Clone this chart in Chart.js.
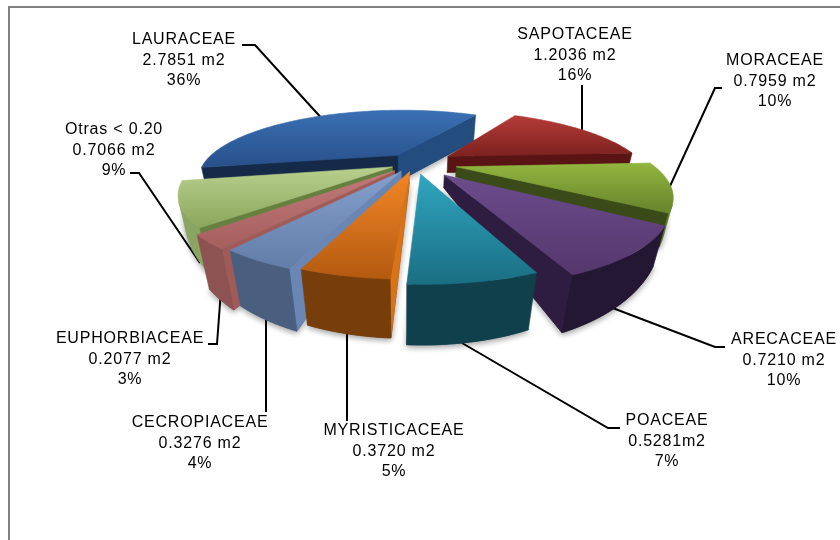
<!DOCTYPE html>
<html><head><meta charset="utf-8">
<style>html,body{margin:0;padding:0;background:#fff}canvas{display:block}</style>
<script src="https://cdn.jsdelivr.net/npm/chart.js@4"></script>
</head><body><canvas id="c" width="840" height="540"></canvas>
<script>
const categories = ['LAURACEAE','SAPOTACEAE','MORACEAE','ARECACEAE','POACEAE','MYRISTICACEAE','CECROPIACEAE','EUPHORBIACEAE','Otras < 0.20'];
const areas = [2.7851,1.2036,0.7959,0.7210,0.5281,0.3720,0.3276,0.2077,0.7066];
const areaLabels = ['2.7851 m2','1.2036 m2','0.7959 m2','0.7210 m2','0.5281m2','0.3720 m2','0.3276 m2','0.2077 m2','0.7066 m2'];
const percentLabels = ['36%','16%','10%','10%','7%','5%','4%','3%','9%'];
const explode = [30,40,42,44,32,26,28,30,25];
const topFrom = ['#3a70b3','#b53b37','#92b53f','#6c4b8c','#30a6c0','#f38626','#84a0cc','#c07a78','#b8d08d'];
const topTo   = ['#28508a','#7c2220','#66832b','#55376c','#1a6e83','#b35a10','#627da8','#a65f5e','#8ca65c'];
const startWall = ['#152a48','#4f1010','#3a4a18','#2e1d40','#123f4c','#d87417','#6a86b5','#a05a58','#66803f'];
const endWall   = ['#234d7f','#5a1414','#3a4a18','#2e1d40','#123f4c','#cc6e16','#6a86b5','#a05a58','#66803f'];
const rimFill   = ['#1c3a62','#5a1414','#5d7a2a','#231733','#11404d','#773e0c','#4a5f80','#8c5352','#8aa463'];
const minDepth = [26,16,10,8,8,8,8,8,8];
const depthBoost = [0,0,0,0,0,0,5,10,4];
const labelCentres = [[184,40],[575,35],[775,61],[784,340],[667,421],[394,431],[200,423],[130,339],[114,130]];
const leaderLines = [
 [[242,45],[255,45],[325,122]],
 [[582,85],[582,140]],
 [[722,88],[715,88],[665,197]],
 [[725,347],[715,347],[610,307]],
 [[620,428],[608,428],[462,343]],
 [[347,421],[347,330]],
 [[266,412],[266,310]],
 [[208,344],[217,344],[221,290]],
 [[130,173],[139,173],[200,263]]
];
const view = {cx:415,cy:163,D:590,s:0.33,nx:404};

function proj(u,n){const p=1/(1-n/view.D);return [view.cx+u*p,view.cy+view.s*n*p];}
function depth(n,i){return Math.max(minDepth[i],4+0.25*n+depthBoost[i]*Math.max(0,n)/150);}
function lower(P,n,i){const h=depth(n,i),k=1-h*0.065/60;return [view.nx+(P[0]-view.nx)*k,P[1]+h];}
function poly(ctx,pts,fill){ctx.beginPath();pts.forEach((q,j)=>j?ctx.lineTo(q[0],q[1]):ctx.moveTo(q[0],q[1]));ctx.closePath();ctx.fillStyle=fill;ctx.strokeStyle=fill;ctx.lineWidth=0.6;ctx.fill();ctx.stroke();}
function area(p){let a=0;p.forEach((q,j)=>{const r=p[(j+1)%p.length];a+=q[0]*r[1]-r[0]*q[1];});return a;}

const pie3d = {
 id:'pie3d',
 beforeDatasetsDraw(chart){
  const ctx=chart.ctx, arcs=chart.getDatasetMeta(0).data;
  ctx.save();
  ctx.strokeStyle='#000';ctx.lineWidth=2;ctx.lineJoin='miter';
  leaderLines.forEach(l=>{ctx.beginPath();l.forEach((q,j)=>j?ctx.lineTo(q[0],q[1]):ctx.moveTo(q[0],q[1]));ctx.stroke();});
  ctx.restore();
  const slices=arcs.map((el,i)=>{
    const a0=el.startAngle,a1=el.endAngle,mid=(a0+a1)/2,e=el.options.offset,R=el.outerRadius;
    const ou=Math.cos(mid)*e,on=Math.sin(mid)*e,steps=Math.max(4,Math.ceil((a1-a0)/0.025));
    const plate=[];for(let j=0;j<=steps;j++){const a=a0+(a1-a0)*j/steps;plate.push([ou+R*Math.cos(a),on+R*Math.sin(a)]);}
    return {i,ou,on,plate,key:Math.sin(mid)};
  }).sort((x,y)=>x.key-y.key);
  ctx.save();
  ctx.save();ctx.shadowColor='rgba(0,0,0,.4)';ctx.shadowBlur=6;ctx.shadowOffsetY=2;
  slices.forEach(S=>{
    const low=[[S.ou,S.on],...S.plate].map(q=>lower(proj(q[0],q[1]),q[1],S.i));
    poly(ctx,low,rimFill[S.i]);
  });
  ctx.restore();
  slices.forEach(S=>{
    const i=S.i,tops=S.plate.map(q=>proj(q[0],q[1])),bots=S.plate.map((q,j)=>lower(tops[j],q[1],i));
    const apex=proj(S.ou,S.on),apexLow=lower(apex,S.on,i),last=tops.length-1;
    const w0=[apex,tops[0],bots[0],apexLow],w1=[apex,tops[last],bots[last],apexLow];
    if(area(w0)<0)poly(ctx,w0,startWall[i]);
    if(area(w1)>0)poly(ctx,w1,endWall[i]);
    let run=[];
    const flush=()=>{if(run.length){const up=run.map(j=>tops[j]),dn=run.map(j=>bots[j]).reverse();poly(ctx,up.concat(dn),rimFill[i]);run=[];}};
    for(let j=0;j<last;j++){
      const q=[tops[j],tops[j+1],bots[j+1],bots[j]];
      if(area(q)<0){if(!run.length)run.push(j);run.push(j+1);}else flush();
    }
    flush();
    const all=[apex,...tops],ys=all.map(q=>q[1]);
    const g=ctx.createLinearGradient(0,Math.min(...ys),0,Math.max(...ys));
    g.addColorStop(0,topFrom[i]);g.addColorStop(1,topTo[i]);
    poly(ctx,all,g);
  });
  ctx.restore();
  return false;
 },
 afterDraw(chart){
  const ctx=chart.ctx;ctx.save();
  ctx.fillStyle='#808080';ctx.fillRect(8,6,832,2);ctx.fillRect(8,6,2,534);
  ctx.fillStyle='#000';ctx.textAlign='center';ctx.textBaseline='middle';
  ctx.font='16px "Liberation Sans", Arial, sans-serif';
  if('letterSpacing' in ctx)ctx.letterSpacing='0.8px';
  categories.forEach((c,i)=>{const [x,y]=labelCentres[i];
    ctx.fillText(c,x,y);ctx.fillText(areaLabels[i],x,y+20.3);ctx.fillText(percentLabels[i],x,y+40.6);});
  ctx.restore();
 }
};

new Chart(document.getElementById('c'),{
 type:'pie',
 data:{labels:categories,datasets:[{data:areas,backgroundColor:topFrom,offset:explode,borderWidth:0}]},
 options:{responsive:false,animation:false,rotation:-101,radius:195,
  layout:{padding:0},
  plugins:{legend:{display:false},tooltip:{enabled:false}},
  events:[]},
 plugins:[pie3d]
});
</script></body></html>
